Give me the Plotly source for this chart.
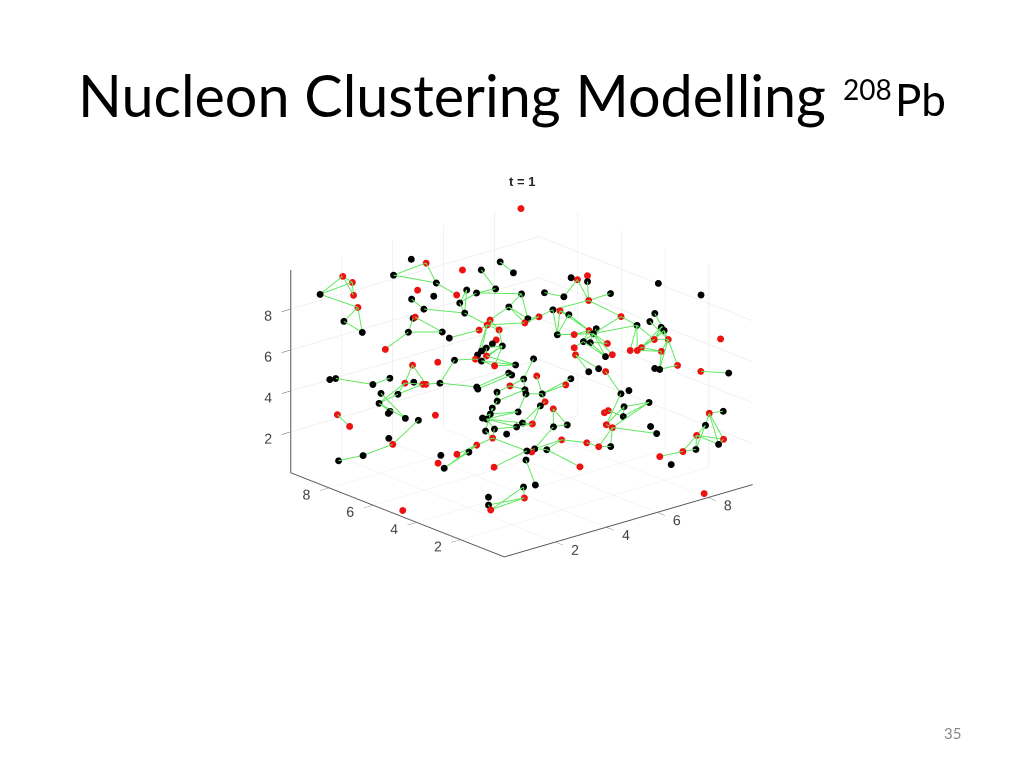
import plotly.graph_objects as go

node_x = [8.75,4.05,4.35,3.43,4.31,5.07,5.50,6.06,6.21,2.03,2.39,1.14,2.23,2.16,1.67,1.92,3.78,3.52,4.07,3.66,
4.61,4.90,5.08,5.57,6.09,4.55,4.54,5.62,5.90,5.78,5.01,4.87,5.08,4.63,3.83,3.29,3.34,2.97,3.76,2.23,
4.89,4.74,4.55,4.95,4.39,4.26,4.43,4.15,3.64,4.26,4.49,4.97,2.62,3.24,4.70,4.74,4.98,0.54,0.67,1.91,
7.47,7.58,7.87,7.77,9.38,9.68,6.63,7.02,8.13,7.53,6.18,6.59,6.74,6.88,8.07,8.31,8.66,8.88,8.84,8.85,
7.33,7.13,7.19,6.35,6.73,6.85,6.99,7.38,6.55,6.49,7.15,7.34,8.49,8.83,9.69,8.51,8.09,7.96,7.81,8.12,
8.21,8.68,9.12,9.70,6.57,6.83,6.95,5.47,5.31,6.05,1.45,2.19,2.41,2.58,2.67,2.99,1.89,1.51,1.33,1.41,
1.48,1.71,1.99,0.21,0.33,2.45,1.06,1.06,0.23,0.00,2.01,1.85,1.91,2.41,2.70,2.98,3.45,3.38,3.81,3.60,
4.15,4.33,3.49,3.57,3.72,3.85,4.40,4.07,4.19,3.79,3.78,4.57,4.85,4.81,3.06,4.04,3.90,3.46,3.34,2.53,
2.43,2.36,0.36,5.85,5.18,5.14,4.98,5.23,4.54,4.98,5.34,4.99,4.24,4.51,4.15,5.03,3.77,7.00,7.21,6.89,
7.51,6.73,6.45,6.35,6.22,6.33,7.20,7.26,5.53,5.74,6.03,7.02,7.61,7.94,7.15,8.15,8.47,8.73,9.09,8.69,
8.52,7.85]
node_y = [9.42,8.96,8.63,9.05,8.12,7.81,7.45,7.24,6.81,9.74,9.72,9.74,9.48,9.20,9.27,8.72,8.36,8.33,7.96,7.93,
7.54,7.42,7.18,6.88,6.30,7.33,7.09,6.33,5.79,5.79,6.48,6.45,6.15,6.54,6.97,7.99,7.96,7.84,7.21,8.03,
6.06,6.06,6.12,5.85,6.15,6.18,5.97,6.15,6.51,6.00,5.67,5.27,7.24,6.81,5.27,5.18,4.91,8.60,8.48,7.45,
5.64,5.48,5.36,5.24,3.88,2.28,5.88,5.45,4.61,4.91,5.61,5.45,5.30,5.06,4.06,3.61,3.43,3.46,3.12,3.00,
4.33,4.43,4.30,4.97,4.64,4.36,4.21,3.88,4.43,4.30,3.70,3.61,3.03,2.79,1.40,2.73,3.15,3.19,3.34,2.58,
2.46,2.19,1.64,1.04,3.79,3.64,3.46,5.03,4.70,4.00,7.69,7.09,6.94,6.72,6.69,6.42,7.06,7.39,7.27,6.94,
6.94,6.51,6.24,7.87,7.45,6.00,6.51,6.33,6.72,7.57,5.24,5.18,4.97,4.97,4.76,4.73,4.55,4.79,4.33,4.64,
4.27,4.21,5.06,4.97,4.97,5.03,4.49,5.06,5.21,5.67,5.61,5.06,4.70,4.61,4.03,3.67,3.55,3.15,2.97,3.67,
3.55,3.37,5.06,4.00,4.30,4.12,4.15,3.85,4.00,3.55,3.34,3.19,3.55,3.31,3.58,2.40,2.97,2.82,2.70,2.55,
2.13,2.40,2.76,2.82,2.58,2.43,1.70,1.49,2.67,2.37,2.16,1.07,0.70,0.49,0.70,0.70,0.67,0.80,0.58,0.10,
0.13,0.01]
node_z = [9.88,9.30,9.14,8.71,8.40,8.89,8.89,9.17,8.76,8.87,8.45,8.31,7.98,7.53,7.00,6.60,8.14,7.81,7.91,7.44,
7.95,8.14,8.03,8.18,7.99,7.67,7.28,7.51,7.06,6.90,7.03,6.85,6.66,6.65,6.37,7.10,7.15,6.60,6.59,5.95,
6.28,6.14,5.98,6.05,5.88,5.72,5.70,5.57,5.55,5.50,5.32,5.36,5.37,5.47,5.06,4.99,4.82,4.85,4.90,4.90,
8.56,8.49,8.63,8.43,8.33,8.33,8.03,7.87,7.98,7.73,7.13,7.39,7.35,7.21,7.11,6.78,6.92,7.22,6.70,6.59,
6.67,6.61,6.49,6.46,6.47,6.20,6.16,6.12,5.98,5.71,5.64,5.70,6.27,6.25,6.55,5.81,5.97,5.86,5.85,5.18,
5.15,5.29,5.07,5.03,5.07,5.19,5.08,5.58,4.94,4.83,4.66,4.71,4.74,4.67,4.65,4.70,4.29,4.33,3.96,3.58,
3.65,3.41,3.33,3.56,3.12,3.51,2.67,2.45,2.04,1.51,2.03,1.73,1.55,2.05,2.14,2.39,2.64,2.91,2.80,2.99,
3.05,3.20,3.39,3.35,3.54,3.76,3.60,4.01,4.34,4.54,4.47,4.57,4.43,4.28,1.58,2.17,1.83,0.84,0.42,0.46,
0.16,0.02,0.01,4.60,4.28,3.98,3.83,3.72,3.17,3.06,3.11,2.57,2.25,2.21,2.12,1.57,0.90,4.25,4.38,3.77,
3.93,3.41,3.65,3.56,3.12,3.00,3.05,2.77,2.45,2.31,2.30,1.91,2.10,2.17,1.63,2.69,3.08,3.52,3.58,2.56,
2.36,0.25]
node_kind = ("RKRKKRKKKR" "RKRRKKRKKK" "RKKKKKKKKR" "RRRRKKRKKR" "RKKKKKRRKK" "RKRRKKKKKK"
             "KRRKKKKKKR" "RKRKRKKKKK" "KRKKRKKRRR" "KRRRRRRRRK" "KRRKKKRKRK" "KRKRRKKKKK"
             "KKKRRRKRKK" "KRKRKRRKKK" "KKKKKKKKKK" "KRKKRKKKRK" "KRRRKRKRRK" "KRKKRRKKKK"
             "KKRRRRKKRR" "KRRKKRKRKR" "KR")
edges = [(11,9),(11,10),(11,13),(9,10),(10,12),(9,12),(13,14),(13,15),(14,15),(3,2),(3,4),(2,4),(4,20),(17,19),(19,26),(26,25),(26,21),(25,21),(25,22),(22,23),(22,24),(23,6),(7,8),(26,31),(35,37),(36,38),(37,38),(37,39),(34,33),(33,31),(31,30),(31,29),(30,27),(27,24),(27,28),(27,29),(24,28),(31,32),(30,32),(31,45),(31,44),(32,43),(43,42),(43,46),(43,50),(43,49),(46,42),(47,49),(47,48),(49,51),(46,51),(49,50),(50,51),(107,56),(54,149),(55,150),(149,115),(56,151),(151,152),(151,148),(152,153),(56,152),(153,164),(58,110),(59,110),(111,116),(116,118),(111,118),(117,121),(118,121),(118,120),(116,113),(114,115),(111,113),(52,111),(52,114),(48,115),(123,124),(122,127),(127,128),(128,129),(132,135),(132,134),(133,135),(134,135),(135,136),(136,137),(148,147),(147,144),(145,144),(144,142),(144,137),(144,146),(143,140),(143,141),(143,146),(143,139),(147,152),(148,151),(139,140),(136,139),(141,168),(140,168),(168,166),(141,166),(166,165),(146,153),(136,155),(154,155),(156,176),(173,171),(172,171),(155,172),(174,172),(173,172),(172,169),(169,167),(167,170),(169,170),(173,175),(171,188),(188,189),(189,190),(190,185),(189,185),(185,184),(179,184),(157,158),(158,161),(158,160),(157,161),(160,161),(109,164),(163,164),(108,164),(165,164),(106,177),(177,184),(179,180),(179,181),(181,180),(180,185),(182,183),(182,181),(185,187),(191,192),(192,193),(192,195),(193,195),(195,196),(196,197),(197,198),(197,199),(197,200),(195,199),(195,200),(200,199),(193,196),(69,68),(69,71),(69,63),(66,67),(67,61),(61,69),(69,74),(74,82),(74,75),(75,82),(71,70),(70,29),(70,28),(71,83),(72,83),(72,73),(73,83),(72,82),(73,82),(83,84),(83,82),(84,81),(81,82),(80,82),(84,82),(85,82),(85,81),(86,82),(82,87),(82,90),(82,91),(85,87),(85,88),(86,90),(85,90),(89,104),(89,105),(75,98),(75,97),(75,92),(76,93),(77,93),(77,79),(78,93),(79,93),(78,96),(79,92),(92,96),(92,93),(93,95),(96,95),(97,95),(93,100),(95,100),(93,101),(100,101),(97,96),(78,92),(79,96),(102,103)]
tick_values = [2, 4, 6, 8]
title_main = "Nucleon Clustering Modelling"
title_mass = "208"
title_element = "Pb"
plot_title = "t = 1"
page_number = "35"

ex, ey, ez = [], [], []
for a, b in edges:
    ex += [node_x[a], node_x[b], None]
    ey += [node_y[a], node_y[b], None]
    ez += [node_z[a], node_z[b], None]

def pick(vals, kind):
    return [v for v, c in zip(vals, node_kind) if c == kind]

fig = go.Figure()
fig.add_trace(go.Scatter3d(x=ex, y=ey, z=ez, mode="lines", line=dict(color="#5fe85f", width=2), hoverinfo="skip"))
fig.add_trace(go.Scatter3d(x=pick(node_x, "R"), y=pick(node_y, "R"), z=pick(node_z, "R"), mode="markers",
                           marker=dict(color="#ee1111", size=4, line=dict(width=0))))
fig.add_trace(go.Scatter3d(x=pick(node_x, "K"), y=pick(node_y, "K"), z=pick(node_z, "K"), mode="markers",
                           marker=dict(color="black", size=4, line=dict(width=0))))

ax = dict(range=[0, 9.75], tickvals=tick_values, ticks="outside", ticklen=12, tickcolor="#555", tickangle=0,
          showline=True, linecolor="#555", linewidth=2, gridcolor="#e4e4e4", gridwidth=1,
          showbackground=False, zeroline=False, title=dict(text=""),
          tickfont=dict(family="Liberation Sans", size=13, color="#444"), showspikes=False)
zx = dict(ax); zx["range"] = [0, 9.9]; zx["ticklen"] = 8
fig.update_layout(
    width=1024, height=768, margin=dict(l=0, r=0, t=0, b=0), showlegend=False, paper_bgcolor="white",
    scene=dict(xaxis=ax, yaxis=ax, zaxis=zx,
               aspectmode="manual", aspectratio=dict(x=0.853, y=0.853, z=0.561),
               domain=dict(x=[0, 1], y=[0, 1]),
               camera=dict(eye=dict(x=-1.172, y=-1.324, z=0.618), up=dict(x=0, y=0, z=1),
                           center=dict(x=-0.020, y=0.0156, z=-0.018), projection=dict(type="orthographic"))))
fig.update_layout(annotations=[
    dict(text=title_main, x=76/1024, y=1-95/768, xref="paper", yref="paper", xanchor="left", yanchor="middle", showarrow=False, font=dict(family="Lato", size=57.5, color="black")),
    dict(text=title_mass, x=841/1024, y=1-89/768, xref="paper", yref="paper", xanchor="left", yanchor="middle", showarrow=False, font=dict(family="Lato", size=28, color="black")),
    dict(text=title_element, x=893/1024, y=1-99/768, xref="paper", yref="paper", xanchor="left", yanchor="middle", showarrow=False, font=dict(family="Lato", size=44, color="black")),
    dict(text="<b>" + plot_title + "</b>", x=522/1024, y=1-181/768, xref="paper", yref="paper", xanchor="center", yanchor="middle", showarrow=False, font=dict(family="Liberation Sans", size=13, color="#222")),
    dict(text=page_number, x=952/1024, y=1-733/768, xref="paper", yref="paper", xanchor="center", yanchor="middle", showarrow=False, font=dict(family="Lato", size=15, color="#8a8a8a")),
])
fig.write_html("out.html", config=dict(displayModeBar=False), post_script="document.body.style.margin='0';")
